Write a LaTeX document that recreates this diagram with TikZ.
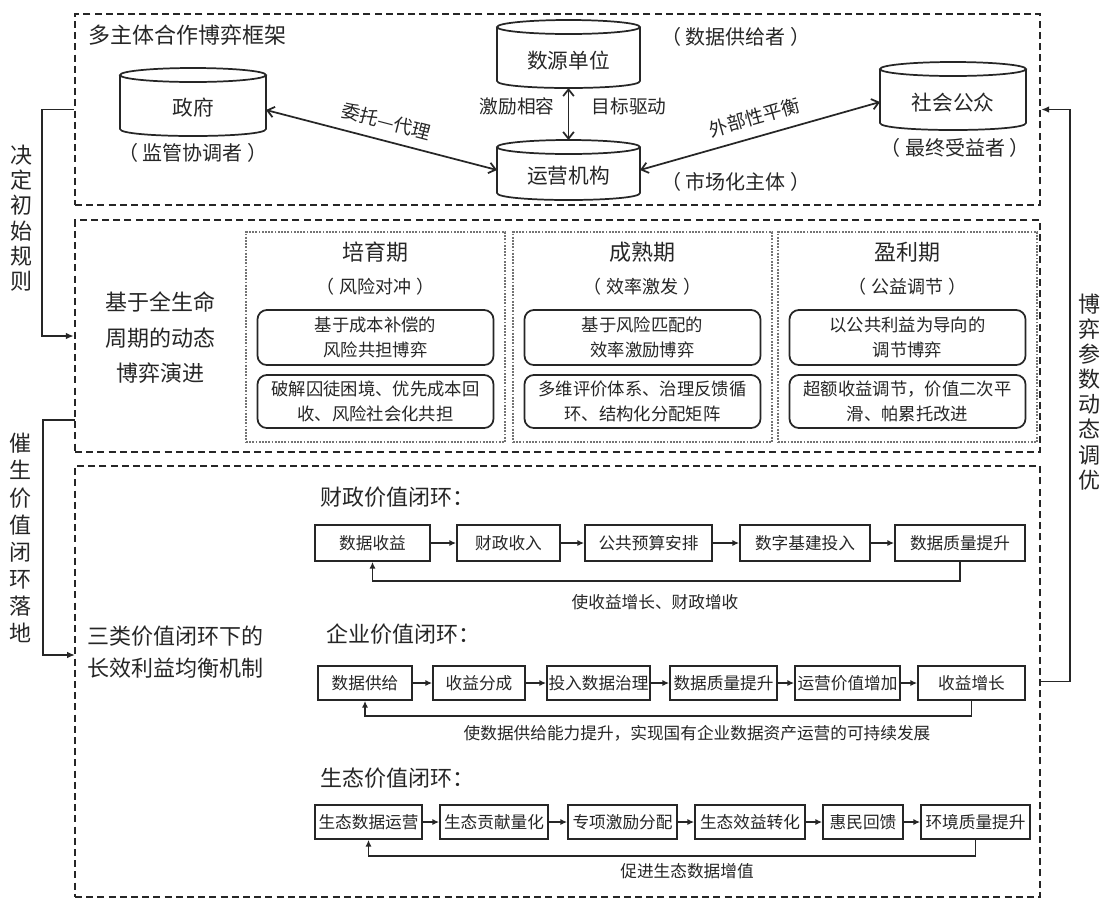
\documentclass[tikz,border=0pt]{standalone}
\usepackage{fontspec}
\setmainfont{Noto Sans CJK SC}
\usetikzlibrary{arrows.meta,fit}
\newcommand\myfs[2]{\fontsize{#1pt}{#2pt}\selectfont}
\newcommand\pp[1]{（\hspace{3.5pt}#1\hspace{3.5pt}）}
\newcommand\vc[1]{\hbox to 18pt{\hss#1\hss}}
\newcommand\vlab[2]{\vbox{\baselineskip=#1\lineskiplimit=-50pt\lineskip=0pt\relax #2}}
\newcommand\drawcyl[2]{%
  \draw[cyl] ([yshift=-5.25pt]#1.north west) -- ([yshift=5.25pt]#1.south west)
    .. controls +(0pt,-7pt) and +(0pt,-7pt) .. ([yshift=5.25pt]#1.south east)
    -- ([yshift=-5.25pt]#1.north east);
  \draw[cyl] ([yshift=-5.25pt]#1.north) ellipse [x radius=#2, y radius=5.25pt];}
\begin{document}
\begin{tikzpicture}[x=0.75pt,y=-0.75pt,
  every node/.style={text=black!85},
  wd/.style={minimum width=#1*0.75pt},
  ht/.style={minimum height=#1*0.75pt},
  outer/.style={draw=black!85, line width=1.8pt, dash pattern=on 5.2pt off 3.2pt, inner sep=0pt},
  phase/.style={draw=black!55, line width=1.4pt, densely dotted, inner sep=0pt},
  rbox/.style={draw=black!85, line width=1.3pt, rounded corners=7pt, align=center, inner sep=0pt, font=\myfs{13}{18.75}},
  cylnode/.style={inner sep=0pt, outer sep=0pt},
  cyl/.style={draw=black!85, line width=1.3pt},
  ctext/.style={font=\myfs{15.5}{18}},
  rtext/.style={font=\myfs{15}{18}},
  ltext/.style={font=\myfs{14}{16}},
  fbox/.style={draw=black!85, line width=1.3pt, inner sep=1pt, font=\myfs{12.5}{15}},
  flow/.style={draw=black!85, line width=1.1pt, -{Latex[length=5pt,width=4.5pt]}},
  dbl/.style={draw=black!85, line width=1.3pt, {Straight Barb[length=5pt,width=8pt]}-{Straight Barb[length=5pt,width=8pt]}},
  side/.style={draw=black!85, line width=1.2pt, -{Latex[length=6pt,width=5pt]}},
  vtext/.style={inner sep=0pt, font=\myfs{16.5}{19}},
  head/.style={font=\myfs{16.5}{20}},
  fblabel/.style={font=\myfs{12.5}{15}}
]
\fill[white] (0,0) rectangle (1115,901);
\useasboundingbox (0,0) rectangle (1115,901);

% outer boxes
\node[outer, fit={(75,14) (1040,205)}] (topbox) {};
\node[outer, fit={(75,220) (1040,452)}] (midbox) {};
\node[outer, fit={(75,466) (1040,897)}] (botbox) {};

% ---------- top ----------
\node[head, anchor=west] (ttl1) at (84,35) {多主体合作博弈框架};

\node[cylnode, wd=146, ht=68] (gov) at (193,102) {};
\drawcyl{gov}{54.75pt}
\node[ctext] (govt) at (193,108) {政府};
\node[rtext] (govr) at (193,153) {\pp{监管协调者}};

\node[cylnode, wd=143, ht=68] (src) at (568.5,54) {};
\drawcyl{src}{53.6pt}
\node[ctext] (srct) at (568.5,61) {数源单位};
\node[rtext] (srcr) at (736,37) {\pp{数据供给者}};

\node[cylnode, wd=143, ht=60] (ops) at (568.5,170) {};
\drawcyl{ops}{53.6pt}
\node[ctext] (opst) at (568.5,176) {运营机构};
\node[rtext] (opsr) at (736,182) {\pp{市场化主体}};

\node[cylnode, wd=146, ht=68] (pub) at (953,96) {};
\drawcyl{pub}{54.75pt}
\node[ctext] (pubt) at (953,103) {社会公众};
\node[rtext] (pubr) at (955,148) {\pp{最终受益者}};

\draw[dbl] (src.south) -- (ops.north);
\node[ltext] (inc) at (517,106) {激励相容};
\node[ltext] (goal) at (629,106) {目标驱动};

\draw[dbl] ([yshift=-6pt]gov.east) -- node[ltext, sloped, above=4pt] (lbl1) {委托—代理} (ops.west);
\draw[dbl] (ops.east) -- node[ltext, sloped, above=4pt] (lbl2) {外部性平衡} ([yshift=-4.5pt]pub.west);

% ---------- middle ----------
\node[align=center, font=\myfs{16.5}{26.6}] (lc) at (160,338) {基于全生命\\周期的动态\\博弈演进};

\node[phase, fit={(246,232) (505,442)}] (p1) {};
\node[head] (p1t) at (375.5,252) {培育期};
\node[font=\myfs{13.5}{16}] (p1s) at (375.5,287) {\pp{风险对冲}};
\node[rbox, wd=236, ht=55] (p1a) at (375.5,337.5) {基于成本补偿的\\风险共担博弈};
\node[rbox, wd=236, ht=53] (p1b) at (375.5,401.5) {破解囚徒困境、优先成本回\\收、风险社会化共担};

\node[phase, fit={(513,232) (772,442)}] (p2) {};
\node[head] (p2t) at (642.5,252) {成熟期};
\node[font=\myfs{13.5}{16}] (p2s) at (642.5,287) {\pp{效率激发}};
\node[rbox, wd=236, ht=55] (p2a) at (642.5,337.5) {基于风险匹配的\\效率激励博弈};
\node[rbox, wd=236, ht=53] (p2b) at (642.5,401.5) {多维评价体系、治理反馈循\\环、结构化分配矩阵};

\node[phase, fit={(778,232) (1037,442)}] (p3) {};
\node[head] (p3t) at (907.5,252) {盈利期};
\node[font=\myfs{13.5}{16}] (p3s) at (907.5,287) {\pp{公益调节}};
\node[rbox, wd=236, ht=55] (p3a) at (907.5,337.5) {以公共利益为导向的\\调节博弈};
\node[rbox, wd=236, ht=53] (p3b) at (907.5,401.5) {超额收益调节，价值二次平\\滑、帕累托改进};

% ---------- bottom ----------
\node[align=center, font=\myfs{16.5}{24}] (lb) at (175,652) {三类价值闭环下的\\长效利益均衡机制};

\node[head, anchor=west] (f1t) at (316,497) {财政价值闭环：};
\node[fbox, wd=115, ht=36] (r1a) at (372.5,543) {数据收益};
\node[fbox, wd=103, ht=36] (r1b) at (508.5,543) {财政收入};
\node[fbox, wd=127, ht=36] (r1c) at (648.5,543) {公共预算安排};
\node[fbox, wd=130, ht=36] (r1d) at (805,543) {数字基建投入};
\node[fbox, wd=130, ht=36] (r1e) at (960,543) {数据质量提升};
\foreach \a/\b in {r1a/r1b,r1b/r1c,r1c/r1d,r1d/r1e} \draw[flow] (\a) -- (\b);
\draw[flow] (r1e.south) -- ++(0,19) -| (r1a.south);
\node[fblabel] (f1l) at (655,602) {使收益增长、财政增收};

\node[head, anchor=west] (f2t) at (322,634) {企业价值闭环：};
\node[fbox, wd=94, ht=34] (r2a) at (365,683) {数据供给};
\node[fbox, wd=92, ht=34] (r2b) at (479,683) {收益分成};
\node[fbox, wd=103, ht=34] (r2c) at (598.5,683) {投入数据治理};
\node[fbox, wd=107, ht=34] (r2d) at (723.5,683) {数据质量提升};
\node[fbox, wd=105, ht=34] (r2e) at (847.5,683) {运营价值增加};
\node[fbox, wd=107, ht=34] (r2f) at (971.5,683) {收益增长};
\foreach \a/\b in {r2a/r2b,r2b/r2c,r2c/r2d,r2d/r2e,r2e/r2f} \draw[flow] (\a) -- (\b);
\draw[flow] (r2f.south) -- ++(0,15) -| (r2a.south);
\node[fblabel] (f2l) at (697,733) {使数据供给能力提升，实现国有企业数据资产运营的可持续发展};

\node[head, anchor=west] (f3t) at (316,778) {生态价值闭环：};
\node[fbox, wd=107, ht=34] (r3a) at (368.5,822) {生态数据运营};
\node[fbox, wd=108, ht=34] (r3b) at (494,822) {生态贡献量化};
\node[fbox, wd=109, ht=34] (r3c) at (622.5,822) {专项激励分配};
\node[fbox, wd=110, ht=34] (r3d) at (750,822) {生态效益转化};
\node[fbox, wd=80, ht=34] (r3e) at (863,822) {惠民回馈};
\node[fbox, wd=109, ht=34] (r3f) at (975.5,822) {环境质量提升};
\foreach \a/\b in {r3a/r3b,r3b/r3c,r3c/r3d,r3d/r3e,r3e/r3f} \draw[flow] (\a) -- (\b);
\draw[flow] (r3f.south) -- ++(0,16) -| (r3a.south);
\node[fblabel] (f3l) at (687,871) {促进生态数据增值};

% ---------- side connectors ----------
\node[vtext] (s1) at (22,218) {\vlab{19pt}{\vc{决}\vc{定}\vc{初}\vc{始}\vc{规}\vc{则}}};
\node[vtext] (s2) at (21,538) {\vlab{20.3pt}{\vc{催}\vc{生}\vc{价}\vc{值}\vc{闭}\vc{环}\vc{落}\vc{地}}};
\node[vtext] (s3) at (1089,392) {\vlab{18.8pt}{\vc{博}\vc{弈}\vc{参}\vc{数}\vc{动}\vc{态}\vc{调}\vc{优}}};

\coordinate (m2) at (75,420);
\coordinate (b2) at (75,655);
\draw[side] (topbox.west) -- ++(-32,0) |- (midbox.west);
\draw[side] (m2) -- ++(-32,0) |- (b2);
\draw[side] (botbox.east) -- ++(29,0) |- (topbox.east);
\end{tikzpicture}
\end{document}
